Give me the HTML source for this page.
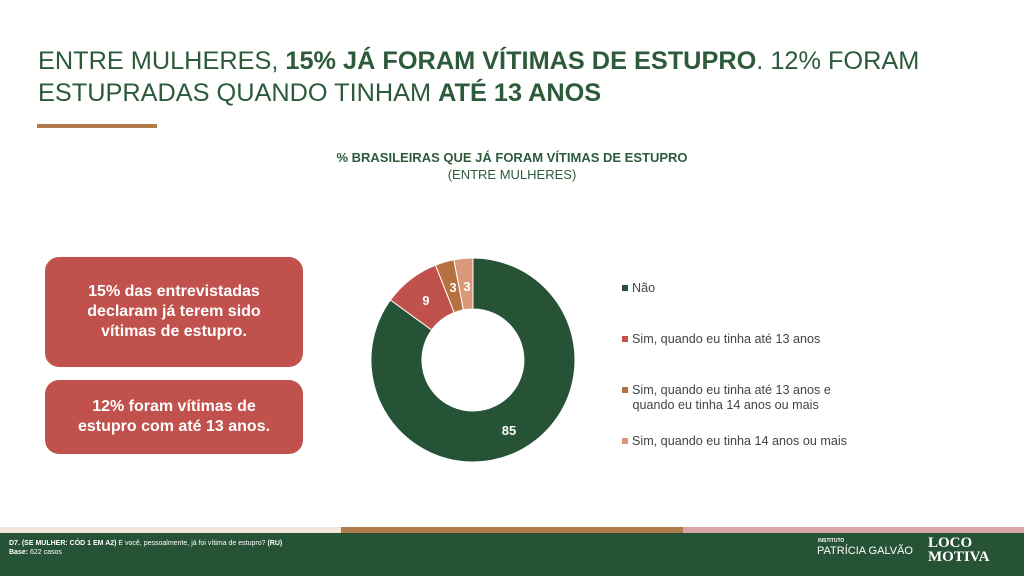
<!DOCTYPE html>
<html><head><meta charset="utf-8"><style>
body{margin:0;width:1024px;height:576px;position:relative;overflow:hidden;background:#fff;font-family:"Liberation Sans",Arial,sans-serif}
.t{position:absolute;left:38px;top:45px;font-size:25.3px;line-height:32px;color:#2c5a3a}
.box{position:absolute;left:45px;width:258px;background:#c0514d;border-radius:14px;color:#fff;font-weight:bold;font-size:16px;line-height:20px;text-align:center;display:flex;align-items:center;justify-content:center}
.leg{position:absolute;left:622px;font-size:12.6px;color:#444;line-height:15px}
.leg i{display:inline-block;width:6px;height:6px;margin-right:4px;vertical-align:1px}
</style></head><body>
<div class="t">ENTRE MULHERES, <b>15% JÁ FORAM VÍTIMAS DE ESTUPRO</b>. 12% FORAM<br>ESTUPRADAS QUANDO TINHAM <b>ATÉ 13 ANOS</b></div>
<div style="position:absolute;left:37px;top:124px;width:120px;height:4px;background:#b07a4a"></div>
<div style="position:absolute;left:0;width:1024px;top:150px;text-align:center;font-size:13px;font-weight:bold;color:#2c5a3a">% BRASILEIRAS QUE JÁ FORAM VÍTIMAS DE ESTUPRO</div>
<div style="position:absolute;left:0;width:1024px;top:167px;text-align:center;font-size:13px;color:#2c5a3a">(ENTRE MULHERES)</div>
<div class="box" style="top:257px;height:110px">15% das entrevistadas<br>declaram já terem sido<br>vítimas de estupro.</div>
<div class="box" style="top:380px;height:74px">12% foram vítimas de<br>estupro com até 13 anos.</div>
<svg style="position:absolute;left:0;top:0" width="1024" height="576">
<g stroke="#fff" stroke-width="1">
<path d="M473,258 A102,102 0 1 1 390.5,300 L431.7,330 A51,51 0 1 0 473,309 Z" fill="#265235"/>
<path d="M390.5,300 A102,102 0 0 1 435.5,265.2 L454.2,312.6 A51,51 0 0 0 431.7,330 Z" fill="#c0514d"/>
<path d="M435.5,265.2 A102,102 0 0 1 453.9,259.8 L463.4,309.9 A51,51 0 0 0 454.2,312.6 Z" fill="#b5713f"/>
<path d="M453.9,259.8 A102,102 0 0 1 473,258 L473,309 A51,51 0 0 0 463.4,309.9 Z" fill="#d9987a"/>
</g>
<g fill="#fff" font-weight="bold" font-size="13" text-anchor="middle" font-family="Liberation Sans,sans-serif">
<text x="426" y="305">9</text><text x="453" y="292">3</text><text x="467" y="291">3</text><text x="509" y="435">85</text>
</g>
</svg>
<div class="leg" style="top:281px"><i style="background:#265235"></i>Não</div>
<div class="leg" style="top:332px"><i style="background:#c0514d"></i>Sim, quando eu tinha até 13 anos</div>
<div class="leg" style="top:383px"><i style="background:#b5713f"></i>Sim, quando eu tinha até 13 anos e<br>&nbsp;&nbsp;&nbsp;quando eu tinha 14 anos ou mais</div>
<div class="leg" style="top:434px"><i style="background:#d9987a"></i>Sim, quando eu tinha 14 anos ou mais</div>
<div style="position:absolute;top:527px;left:0;width:341px;height:6px;background:#f3e6dc"></div>
<div style="position:absolute;top:527px;left:341px;width:342px;height:6px;background:#b07a4a"></div>
<div style="position:absolute;top:527px;left:683px;width:341px;height:6px;background:#d9a6a4"></div>
<div style="position:absolute;top:533px;left:0;width:1024px;height:43px;background:#265235"></div>
<div style="position:absolute;top:539px;left:9px;font-size:7px;line-height:9px;color:#fff"><b>D7. (SE MULHER: CÓD 1 EM A2)</b> E você, pessoalmente, já foi vítima de estupro? <b>(RU)</b><br><b>Base:</b> 622 casos</div>
<div style="position:absolute;top:538px;left:818px;font-size:5px;color:#fff;font-weight:bold">INSTITUTO</div>
<div style="position:absolute;top:545px;left:817px;font-size:11px;color:#fff">PATRÍCIA GALVÃO</div>
<div style="position:absolute;top:536px;left:928px;font-size:15px;line-height:14px;color:#fff;font-weight:bold;font-family:'Liberation Serif',serif">LOCO<br>MOTIVA</div>
</body></html>
